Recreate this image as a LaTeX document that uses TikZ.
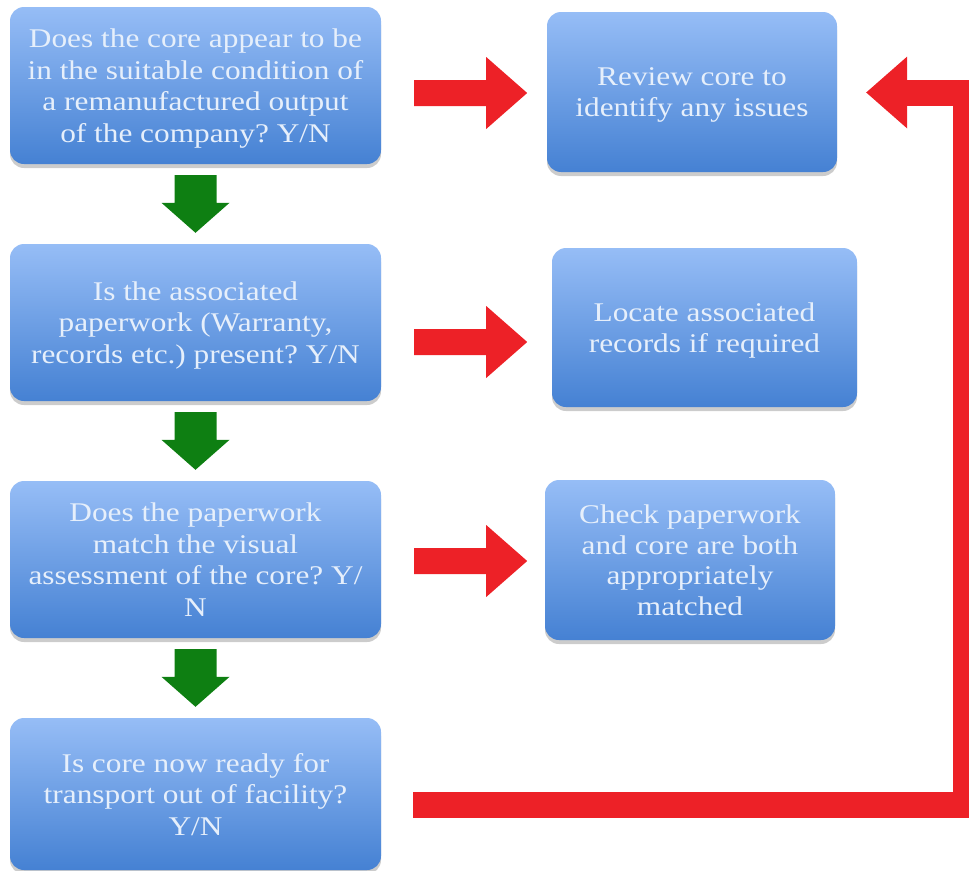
\documentclass[tikz,border=0pt]{standalone}
\usepackage{fontspec}
\setmainfont{Liberation Serif}[FakeStretch=1.16]
\usetikzlibrary{calc,shadows}

\definecolor{boxtop}{HTML}{96BDF6}
\definecolor{boxbot}{HTML}{4581D3}
\definecolor{boxtext}{HTML}{E6EFFB}
\definecolor{arrowred}{HTML}{ED2127}
\definecolor{arrowgreen}{HTML}{0E7F12}

\tikzset{
  flowbox/.style={rounded corners=14pt, top color=boxtop, bottom color=boxbot,
    text=boxtext, align=center, inner sep=0pt, text depth=-2pt,
    font=\fontsize{27}{31.5}\selectfont,
    drop shadow={shadow xshift=0pt, shadow yshift=-4pt, opacity=0.2, fill=black}},
  sidebox/.style={flowbox, font=\fontsize{27}{30.5}\selectfont},
  redfill/.style={fill=arrowred, draw=none},
  greenfill/.style={fill=arrowgreen, draw=none},
  redline/.style={draw=arrowred, line width=26pt, line join=miter, line cap=butt},
}

\begin{document}
\frenchspacing
\begin{tikzpicture}[x=1pt, y=-1pt]
  \useasboundingbox (0,0) rectangle (969,870);
  \clip (0,0) rectangle (969,870);

  % question boxes (left column)
  \node[flowbox, minimum width=371pt, minimum height=157pt] (q1) at (195.5,85.5)
    {Does the core appear to be\\in the suitable condition of\\a remanufactured output\\of the company? Y/N};
  \node[flowbox, minimum width=371pt, minimum height=157pt] (q2) at (195.5,322.5)
    {Is the associated\\paperwork (Warranty,\\records etc.) present? Y/N};
  \node[flowbox, minimum width=371pt, minimum height=157pt] (q3) at (195.5,559.5)
    {Does the paperwork\\match the visual\\assessment of the core? Y/\\N};
  \node[flowbox, minimum width=371pt, minimum height=152pt] (q4) at (195.5,794)
    {Is core now ready for\\transport out of facility?\\Y/N};

  % action boxes (right column)
  \node[sidebox, minimum width=290pt, minimum height=160pt] (a1) at (692,92)
    {Review core to\\identify any issues};
  \node[sidebox, minimum width=305pt, minimum height=159pt] (a2) at (704.5,327.5)
    {Locate associated\\records if required};
  \node[sidebox, minimum width=290pt, minimum height=160pt] (a3) at (690,560)
    {Check paperwork\\and core are both\\appropriately\\matched};

  % green block arrows between questions
  \foreach \u/\v in {q1/q2, q2/q3, q3/q4}{
    \path ($(\u.south)+(0,11)$) coordinate (gs)
          ($(\v.north)+(0,-11)$) coordinate (ge);
    \fill[greenfill] ($(gs)+(-21,0)$) -- ($(gs)+(21,0)$)
      -- ($(gs)!0.48!(ge)+(21,0)$) -- ($(gs)!0.48!(ge)+(34,0)$)
      -- (ge) -- ($(gs)!0.48!(ge)+(-34,0)$) -- ($(gs)!0.48!(ge)+(-21,0)$) -- cycle;
  }

  % red block arrows from questions to actions
  \foreach \u/\v/\yy in {q1/a1/93, q2/a2/342, q3/a3/561}{
    \path (\u.east |- 0,\yy) ++(33,0) coordinate (rs)
          (\u.east |- 0,\yy) ++(146,0) coordinate (re);
    \fill[redfill] ($(rs)+(0,-13)$) -- ($(re)+(-41,-13)$) -- ($(re)+(-41,-36)$)
      -- (re) -- ($(re)+(-41,36)$) -- ($(re)+(-41,13)$) -- ($(rs)+(0,13)$) -- cycle;
  }

  % feedback loop from the last question back to the first action
  \path (q4.east |- 0,805) ++(32,0) coordinate (fs)
        (a1.east |- 0,92.5) ++(29,0) coordinate (fe);
  \draw[redline] (fs) -- (966,805) -- (966,92.5) -- ($(fe)+(41,0)$);
  \fill[redfill] ($(fe)+(41,-36)$) -- (fe) -- ($(fe)+(41,36)$) -- cycle;
\end{tikzpicture}
\end{document}
